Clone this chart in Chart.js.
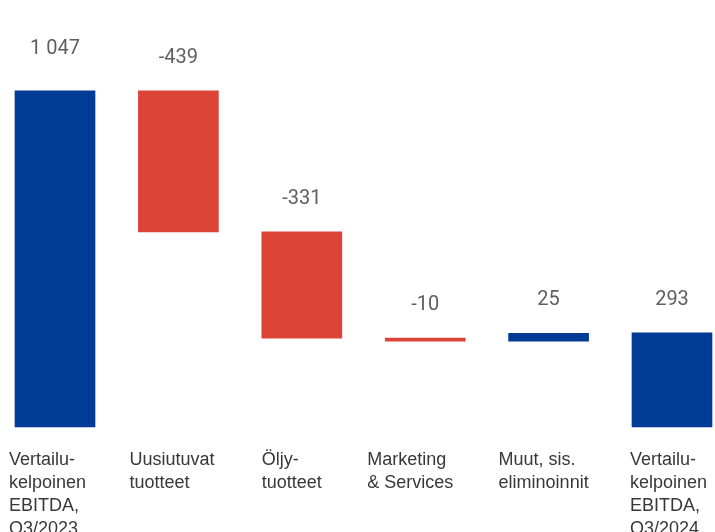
<!DOCTYPE html>
<html>
<head>
<meta charset="utf-8">
<script src="https://cdn.jsdelivr.net/npm/chart.js@4/dist/chart.umd.min.js"></script>
<style>
  html, body { margin: 0; padding: 0; background: #fff; }
  #wrap { width: 715px; height: 532px; }
</style>
</head>
<body>
<div id="wrap"><canvas id="ebitdaBridge"></canvas></div>
<script>
const categories = [
    ['Vertailu-', 'kelpoinen', 'EBITDA,', 'Q3/2023'],
    ['Uusiutuvat', 'tuotteet'],
    ['Öljy-', 'tuotteet'],
    ['Marketing', '& Services'],
    ['Muut, sis.', 'eliminoinnit'],
    ['Vertailu-', 'kelpoinen', 'EBITDA,', 'Q3/2024']
];
const changes = [1047, -439, -331, -10, 25, 293];
const isTotal = [true, false, false, false, false, true];

const blue = '#003b95';
const red = '#db4437';
// horizontal nudge of each category name relative to its bar's left edge
const nameNudge = [-6, -9, 0, -18, -10, -2];

// floating bars: totals start at zero, changes continue from running sum
let running = 0;
const bars = [];
const colours = [];
for (let i = 0; i < changes.length; i++) {
    if (isTotal[i]) {
        bars.push([0, changes[i]]);
        running = changes[i];
    } else {
        bars.push([running, running + changes[i]]);
        running += changes[i];
    }
    colours.push(changes[i] < 0 ? red : blue);
}

function formatValue(v) {
    const s = Math.abs(v).toString().replace(/\B(?=(\d{3})+(?!\d))/g, ' ');
    return (v < 0 ? '-' : '') + s;
}

const labelsPlugin = {
    id: 'bridgeLabels',
    afterDatasetsDraw(chart) {
        const ctx = chart.ctx;
        const meta = chart.getDatasetMeta(0);
        ctx.save();

        // values above the bars
        ctx.font = '20px Roboto';
        ctx.fillStyle = '#5f5f5f';
        ctx.textAlign = 'center';
        ctx.textBaseline = 'middle';
        meta.data.forEach((bar, i) => {
            const top = Math.min(bar.y, bar.base);
            const gap = i === 0 ? 42 : 33;
            ctx.fillText(formatValue(changes[i]), bar.x, top - gap);
        });

        // category names, left aligned under each bar
        ctx.font = '18px "Liberation Sans", Arial';
        ctx.fillStyle = '#383838';
        ctx.textAlign = 'left';
        ctx.textBaseline = 'alphabetic';
        meta.data.forEach((bar, i) => {
            const left = bar.x - bar.width / 2 + nameNudge[i];
            categories[i].forEach((line, j) => {
                ctx.fillText(line, left, 465 + j * 23);
            });
        });
        ctx.restore();
    }
};

new Chart(document.getElementById('ebitdaBridge'), {
    type: 'bar',
    data: {
        labels: categories,
        datasets: [{
            data: bars,
            backgroundColor: colours,
            borderWidth: 0,
            barThickness: 80,
            clip: false
        }]
    },
    options: {
        responsive: true,
        maintainAspectRatio: false,
        animation: false,
        layout: {
            padding: { left: 55, right: 43, top: 0, bottom: 105 }
        },
        plugins: {
            legend: { display: false },
            tooltip: { enabled: false }
        },
        scales: {
            x: { display: false, offset: false },
            y: { display: false, min: 0, max: 1330 }
        }
    },
    plugins: [labelsPlugin]
});
</script>
</body>
</html>
